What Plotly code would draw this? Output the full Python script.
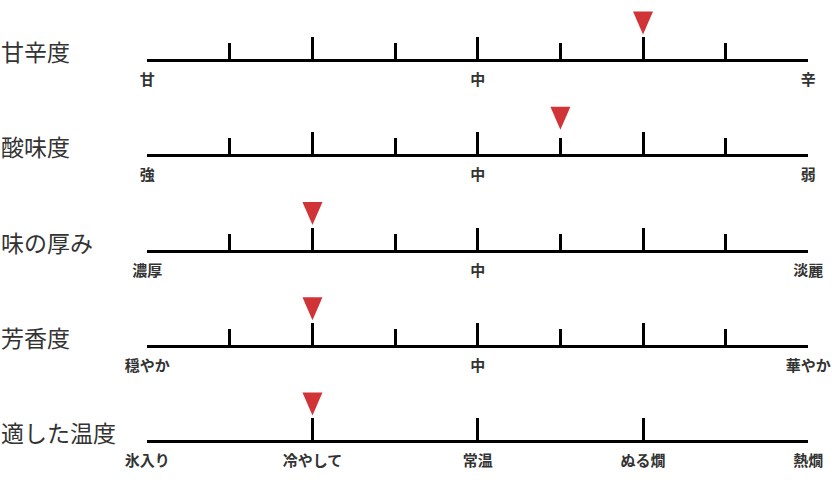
import plotly.graph_objects as go

# ---- data ----
titles = ["甘辛度", "酸味度", "味の厚み", "芳香度", "適した温度"]
scale_labels = [
    ["甘", "", "中", "", "辛"],
    ["強", "", "中", "", "弱"],
    ["濃厚", "", "中", "", "淡麗"],
    ["穏やか", "", "中", "", "華やか"],
    ["氷入り", "冷やして", "常温", "ぬる燗", "熱燗"],
]
major_ticks = [0, 1, 2, 3, 4]
minor_ticks = [[0.5, 1.5, 2.5, 3.5]] * 4 + [[]]
values = [3, 2.5, 1, 1, 1]

# ---- layout constants ----
W, H = 832, 495
X0, X1 = 147.2, 808.3
BASE0, STEP = 60.6, 95.2
ROW_H = 55
FONT = "Noto Sans CJK JP"
RED = "#d03436"

fig = go.Figure()
layout = dict(
    width=W, height=H, margin=dict(l=0, r=0, t=0, b=0, autoexpand=False),
    paper_bgcolor="white", plot_bgcolor="white", showlegend=False,
)
shapes, annotations = [], []

for i, title in enumerate(titles):
    k = "" if i == 0 else str(i + 1)
    base = BASE0 + STEP * i - 1.5
    ybot = 1 - base / H
    ytop = min(1.0, 1 - (base - ROW_H) / H)
    xa = dict(
        domain=[X0 / W, X1 / W], range=[0, 4], anchor="y" + k, automargin=False,
        showline=True, linecolor="black", linewidth=3,
        showgrid=False, zeroline=False, fixedrange=True,
        ticks="inside", ticklen=22, tickwidth=3, tickcolor="black",
        tickmode="array", tickvals=major_ticks, ticktext=scale_labels[i],
        tickfont=dict(family=FONT, size=15, color="#333333", weight="bold"),
        ticklabelstandoff=5,
    )
    if minor_ticks[i]:
        xa["minor"] = dict(tickmode="array", tickvals=minor_ticks[i], ticks="inside",
                           ticklen=16, tickwidth=3, tickcolor="black", showgrid=False)
    ya = dict(domain=[ybot, ytop], range=[0, 1], anchor="x" + k, visible=False,
              fixedrange=True, automargin=False)
    layout["xaxis" + k] = xa
    layout["yaxis" + k] = ya
    fig.add_trace(go.Scatter(x=[values[i]], y=[0.5], xaxis="x" + k, yaxis="y" + k,
                             mode="markers", marker=dict(opacity=0), hoverinfo="skip"))
    shapes.append(dict(
        type="path", xref="x" + k, yref="y" + k,
        xsizemode="pixel", ysizemode="pixel", xanchor=values[i], yanchor=0,
        path="M-10,47.5 L10,47.5 L0,24.5 Z",
        fillcolor=RED, line=dict(width=0),
    ))
    annotations.append(dict(
        text=title, xref="paper", x=0, xanchor="left", yref="y" + k, y=0,
        yanchor="middle", yshift=8, xshift=-1, showarrow=False,
        font=dict(family=FONT, size=23, color="#333333"),
    ))

layout["shapes"] = shapes
layout["annotations"] = annotations
fig.update_layout(**layout)
fig.write_html("out.html", config={"displayModeBar": False},
               post_script="document.body.style.margin='0';")
